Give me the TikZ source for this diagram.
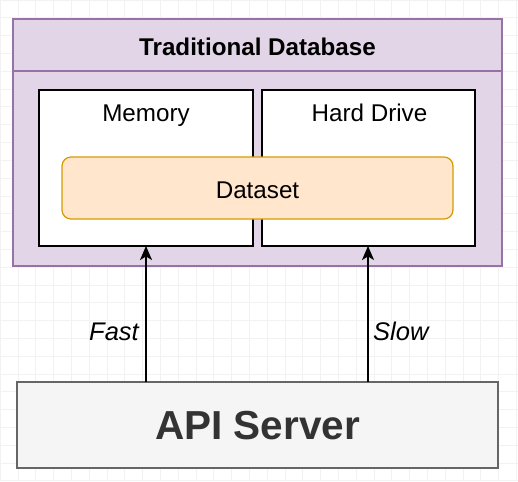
\documentclass[tikz,border=0pt]{standalone}
\usepackage{fontspec}
\setmainfont{Liberation Sans}
\usetikzlibrary{arrows.meta}
\definecolor{purfill}{HTML}{E1D5E7}
\definecolor{purline}{HTML}{9673A6}
\definecolor{orfill}{HTML}{FFE6CC}
\definecolor{orline}{HTML}{D79B00}
\definecolor{apifill}{HTML}{F5F5F5}
\definecolor{apiline}{HTML}{666666}
\definecolor{apitext}{HTML}{333333}
\definecolor{gridc}{HTML}{F2F2F2}
\begin{document}
\begin{tikzpicture}[x=1pt,y=-1pt,
  box/.style={draw=black,fill=white,line width=1.2pt},
  conn/.style={-{Stealth[length=14pt,width=12pt,inset=3.5pt]},line width=1.2pt},
  txt/.style={font=\fontsize{24.2}{28}\selectfont,anchor=base,inner sep=0pt},
  lbl/.style={font=\fontsize{25.5}{30}\selectfont\itshape,anchor=base,inner sep=0pt}]
\useasboundingbox (0,0) rectangle (518,481);
\fill[white] (0,0) rectangle (518,481);
\draw[gridc,line width=0.6pt,step=17.8pt] (0,0) grid (518,481);
% container
\draw[draw=purline,fill=purfill,line width=1.2pt] (13,19) rectangle (502,266);
\draw[purline,line width=1.2pt] (13,71) -- (502,71);
\node[font=\fontsize{24.2}{28}\selectfont\bfseries,anchor=base,inner sep=0pt] (title) at (257.5,55.7) {Traditional Database};
% memory & hard drive
\draw[box] (39,90) rectangle (253,246);
\coordinate (membot) at (146,246);
\node[txt] (mem) at (146,121.7) {Memory};
\draw[box] (262,90) rectangle (475,246);
\coordinate (hdbot) at (368,246);
\node[txt] (hd) at (369.5,121.7) {Hard Drive};
% dataset
\draw[draw=orline,fill=orfill,line width=1.2pt,rounded corners=9pt] (62,157) rectangle (453,219);
\node[txt] (ds) at (257.5,198.3) {Dataset};
% api server
\draw[draw=apiline,fill=apifill,line width=1.2pt] (17,382) rectangle (498,468);
\node[font=\fontsize{40.5}{46}\selectfont\bfseries,text=apitext,anchor=base,inner sep=0pt] (api) at (257.5,439) {API Server};
\coordinate (apiL) at (146,382);
\coordinate (apiR) at (368,382);
% arrows
\draw[conn] (apiL) -- (membot);
\draw[conn] (apiR) -- (hdbot);
\node[lbl,anchor=base east] (fast) at (139,340) {Fast};
\node[lbl,anchor=base west] (slow) at (373,340) {Slow};
\end{tikzpicture}
\end{document}
